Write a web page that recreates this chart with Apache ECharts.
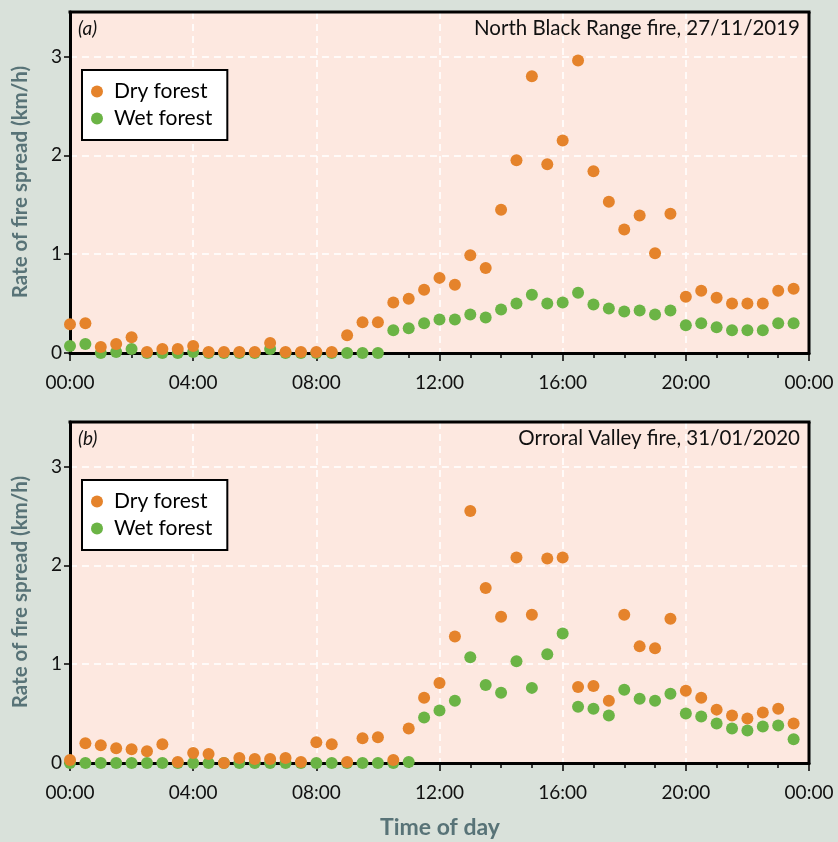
<!DOCTYPE html>
<html>
<head>
<meta charset="utf-8">
<script src="https://cdn.jsdelivr.net/npm/echarts@6/dist/echarts.min.js"></script>
<style>
html,body{margin:0;padding:0;background:#d9e1da;}
#chart{width:838px;height:842px;}
</style>
</head>
<body>
<div id="chart"></div>
<script>
// Times: every half hour, hours from midnight
const timesHours = [0,0.5,1,1.5,2,2.5,3,3.5,4,4.5,5,5.5,6,6.5,7,7.5,8,8.5,9,9.5,10,10.5,11,11.5,
                    12,12.5,13,13.5,14,14.5,15,15.5,16,16.5,17,17.5,18,18.5,19,19.5,20,20.5,21,21.5,22,22.5,23,23.5];
const xTickLabels = ['00:00','04:00','08:00','12:00','16:00','20:00','00:00'];
const yTickLabels = ['0','1','2','3'];

// (a) North Black Range fire, 27/11/2019
const dryA = [0.29,0.30,0.06,0.09,0.16,0.01,0.04,0.04,0.07,0.01,0.01,0.01,0.01,0.10,0.01,0.01,0.01,0.01,0.18,0.31,0.31,0.51,0.55,0.64,
              0.76,0.69,0.99,0.86,1.45,1.95,2.80,1.91,2.15,2.96,1.84,1.53,1.25,1.39,1.01,1.41,0.57,0.63,0.56,0.50,0.50,0.50,0.63,0.65];
const wetA = [0.07,0.09,0.00,0.01,0.04,0.00,0.00,0.00,0.01,0.00,0.00,0.00,0.00,0.04,0.00,0.00,0.00,0.00,0.00,0.00,0.00,0.23,0.25,0.30,
              0.34,0.34,0.39,0.36,0.44,0.50,0.59,0.50,0.51,0.61,0.49,0.45,0.42,0.43,0.39,0.43,0.28,0.30,0.26,0.23,0.23,0.23,0.30,0.30];

// (b) Orroral Valley fire, 31/01/2020
const dryB = [0.03,0.20,0.18,0.15,0.14,0.12,0.19,0.01,0.10,0.09,0.00,0.05,0.04,0.04,0.05,0.01,0.21,0.19,0.01,0.25,0.26,0.03,0.35,0.66,
              0.81,1.28,2.55,1.77,1.48,2.08,1.50,2.07,2.08,0.77,0.78,0.63,1.50,1.18,1.16,1.46,0.73,0.66,0.54,0.48,0.45,0.51,0.55,0.40];
const wetB = [0.00,0.00,0.00,0.00,0.00,0.00,0.00,0.00,0.00,0.00,0.00,0.00,0.00,0.00,0.00,0.00,0.00,0.00,0.00,0.00,0.00,0.00,0.01,0.46,
              0.53,0.63,1.07,0.79,0.71,1.03,0.76,1.10,1.31,0.57,0.55,0.48,0.74,0.65,0.63,0.70,0.50,0.47,0.40,0.35,0.33,0.37,0.38,0.24];

const panelLetters = ['(a)','(b)'];
const panelTitles = ['North Black Range fire, 27/11/2019','Orroral Valley fire, 31/01/2020'];
const seriesNames = ['Dry forest','Wet forest'];

const ORANGE = '#e5832b', GREEN = '#6bb445';
const FONT = 'Lato';
const TITLE_COLOR = '#587377';
const PLOT_BG = '#fde8e0';

const pair = (ys) => timesHours.map((t,i)=>[t, ys[i]]);

const grids = [
  {left:70, top:12, width:739, height:341},
  {left:70, top:422, width:739, height:341}
];

function xAxis(i){
  return {
    type:'value', gridIndex:i, min:0, max:24, interval:4,
    axisLine:{show:true, onZero:false, lineStyle:{color:'#000000', width:3}},
    axisTick:{show:true, inside:false, length:8, lineStyle:{color:'#000000', width:1.5}},
    minorTick:{show:true, splitNumber:4, length:5, lineStyle:{color:'#000000', width:1.5}},
    splitLine:{show:true, showMinLine:false, showMaxLine:false, lineStyle:{color:'#ffffff', type:[7,5], width:1.5}},
    axisLabel:{margin:20, fontFamily:FONT, fontSize:19, color:'#111',
      formatter:(v)=> xTickLabels[Math.round(v/4)] || ''}
  };
}
function yAxis(i){
  return {
    type:'value', gridIndex:i, min:0, max:3.45, interval:1,
    axisLine:{show:true, onZero:false, lineStyle:{color:'#000000', width:3}},
    axisTick:{show:true, inside:false, length:6, lineStyle:{color:'#000000', width:1.5}},
    splitLine:{show:true, showMinLine:false, showMaxLine:false, lineStyle:{color:'#ffffff', type:[7,5], width:1.5}},
    splitArea:{show:true, areaStyle:{color:[PLOT_BG]}},
    axisLabel:{margin:8, fontFamily:FONT, fontSize:19, color:'#111', showMaxLabel:false,
      formatter:(v)=> (Math.abs(v-Math.round(v))<1e-6 && yTickLabels[Math.round(v)]) ? yTickLabels[Math.round(v)] : ''}
  };
}

// top and right frame lines of each panel (layout only)
const frames = [];
grids.forEach(g=>{
  frames.push({type:'line', z:50, shape:{x1:g.left-1.5, y1:g.top, x2:g.left+g.width+1.5, y2:g.top}, style:{stroke:'#000000', lineWidth:3}});
  frames.push({type:'line', z:50, shape:{x1:g.left+g.width, y1:g.top, x2:g.left+g.width, y2:g.top+g.height+1.5}, style:{stroke:'#000000', lineWidth:3}});
});

const option = {
  backgroundColor:'#d9e1da',
  animation:false,
  grid: grids.map(g=>Object.assign({show:false}, g)),
  xAxis:[xAxis(0), xAxis(1)],
  yAxis:[yAxis(0), yAxis(1)],
  legend: grids.map(g=>({
    orient:'vertical', left:g.left+12, top:g.top+58,
    data:seriesNames, icon:'circle', itemWidth:24, itemHeight:12, itemGap:6,
    backgroundColor:'#ffffff', borderColor:'#000', borderWidth:2, borderRadius:0,
    padding:[11,15,11,9],
    selectedMode:false,
    textStyle:{fontFamily:FONT, fontSize:21, color:'#000', lineHeight:19}
  })),
  graphic:{elements:[
    ...frames,
    {type:'text', z:50, left:78, top:19, style:{text:panelLetters[0], font:'italic 19px '+FONT, fill:'#111'}},
    {type:'text', z:50, left:78, top:429, style:{text:panelLetters[1], font:'italic 19px '+FONT, fill:'#111'}},
    {type:'text', z:50, right:38, top:18, style:{text:panelTitles[0], font:'20.5px '+FONT, fill:'#111', textAlign:'right'}},
    {type:'text', z:50, right:38, top:428, style:{text:panelTitles[1], font:'20.5px '+FONT, fill:'#111', textAlign:'right'}},
    {type:'text', x:20, y:182, rotation:Math.PI/2, style:{text:'Rate of fire spread (km/h)', font:'bold 20.5px '+FONT, fill:TITLE_COLOR, textAlign:'center', textVerticalAlign:'middle'}},
    {type:'text', x:20, y:592, rotation:Math.PI/2, style:{text:'Rate of fire spread (km/h)', font:'bold 20.5px '+FONT, fill:TITLE_COLOR, textAlign:'center', textVerticalAlign:'middle'}},
    {type:'text', x:440, y:828, style:{text:'Time of day', font:'bold 23px '+FONT, fill:TITLE_COLOR, textAlign:'center', textVerticalAlign:'middle'}}
  ]},
  series:[
    {name:seriesNames[1], type:'scatter', xAxisIndex:0, yAxisIndex:0, data:pair(wetA), symbolSize:12, itemStyle:{color:GREEN, opacity:1}, z:2, clip:false},
    {name:seriesNames[0], type:'scatter', xAxisIndex:0, yAxisIndex:0, data:pair(dryA), symbolSize:12, itemStyle:{color:ORANGE, opacity:1}, z:3, clip:false},
    {name:seriesNames[1], type:'scatter', xAxisIndex:1, yAxisIndex:1, data:pair(wetB), symbolSize:12, itemStyle:{color:GREEN, opacity:1}, z:2, clip:false},
    {name:seriesNames[0], type:'scatter', xAxisIndex:1, yAxisIndex:1, data:pair(dryB), symbolSize:12, itemStyle:{color:ORANGE, opacity:1}, z:3, clip:false}
  ]
};
const chart = echarts.init(document.getElementById('chart'), null, {renderer:'canvas'});
chart.setOption(option);
</script>
</body>
</html>
